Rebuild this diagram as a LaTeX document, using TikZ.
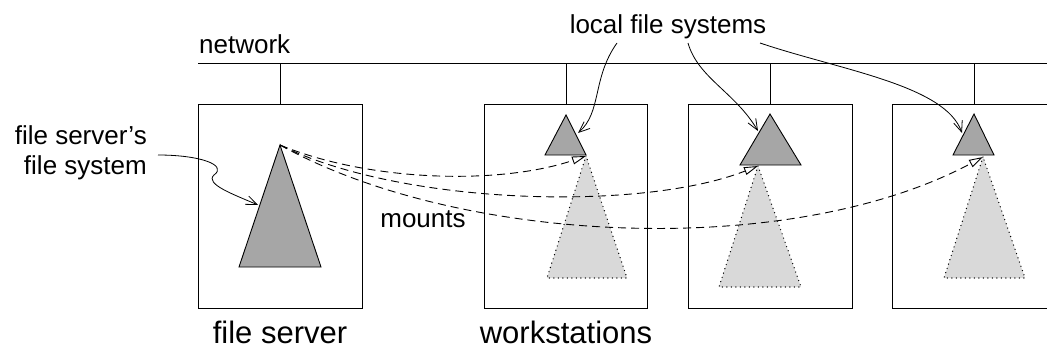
\documentclass[tikz,border=0pt]{standalone}
\usepackage{fontspec}
\setmainfont{Liberation Sans}
\usetikzlibrary{arrows.meta}
\definecolor{darkfs}{RGB}{166,166,166}
\definecolor{lightfs}{RGB}{217,217,217}
\tikzset{
  box/.style={draw=black, line width=1pt, inner sep=0pt, anchor=north west},
  solidtri/.style={draw=black, fill=darkfs, line width=0.9pt, line join=miter},
  dottri/.style={draw=black, line width=1.4pt, line cap=round, dash pattern=on 0pt off 4.5pt},
  mountarrow/.style={line width=0.9pt, dash pattern=on 8pt off 5pt,
    -{Triangle[length=14pt,width=8pt,fill=white,line width=0.9pt]}},
  labelarrow/.style={line width=0.8pt, -{Straight Barb[length=11pt,width=9pt,line width=0.8pt]}},
  lbl/.style={font=\fontsize{26}{30}\selectfont, inner sep=0pt},
  biglbl/.style={font=\fontsize{31}{36}\selectfont, inner sep=0pt},
  wire/.style={line width=1pt},
}
\begin{document}
\begin{tikzpicture}[x=1pt,y=-1pt]
\useasboundingbox (0,0) rectangle (1047,351);

% network
\coordinate (netL) at (198,63);
\coordinate (netR) at (1047,63);
\draw[wire] (netL) -- (netR);
\node[lbl, anchor=base west] (net) at (199,53) {network};

% boxes
\node[box, minimum width=164pt, minimum height=204pt] (fsbox) at (198,104) {};
\node[box, minimum width=163pt, minimum height=204pt] (ws1) at (484,104) {};
\node[box, minimum width=164pt, minimum height=204pt] (ws2) at (688,104) {};
\node[box, minimum width=164pt, minimum height=204pt] (ws3) at (892,104) {};
\foreach \b in {fsbox,ws1,ws2,ws3}{
  \draw[wire] (\b.north) -- (\b.north |- netL);
}

% dotted (mounted) triangles
\coordinate (d1A) at (586,156); \coordinate (d1L) at (547,278); \coordinate (d1R) at (627,278);
\coordinate (d2A) at (758,166); \coordinate (d2L) at (719,287); \coordinate (d2R) at (801,287);
\coordinate (d3A) at (983,157); \coordinate (d3L) at (944,278); \coordinate (d3R) at (1025,278);
\fill[lightfs] (d1A) -- (d1L) -- (d1R) -- cycle;
\fill[lightfs] (d2A) -- (d2L) -- (d2R) -- cycle;
\fill[lightfs] (d3A) -- (d3L) -- (d3R) -- cycle;
\draw[dottri] (d1A) -- (d1L) -- (d1R) -- cycle;
\draw[dottri] (d2A) -- (d2L) -- (d2R) -- cycle;
\draw[dottri] (d3A) -- (d3L) -- (d3R) -- cycle;

% solid triangles
\coordinate (fsA) at (280,145); \coordinate (fsL) at (239,267); \coordinate (fsR) at (321,267);
\coordinate (s1A) at (566,115); \coordinate (s1L) at (545,155); \coordinate (s1R) at (586,155);
\coordinate (s2A) at (770,114); \coordinate (s2L) at (740,165); \coordinate (s2R) at (801,165);
\coordinate (s3A) at (974,114); \coordinate (s3L) at (953,155); \coordinate (s3R) at (994,155);
\filldraw[solidtri] (fsA) -- (fsL) -- (fsR) -- cycle;
\filldraw[solidtri] (s1A) -- (s1L) -- (s1R) -- cycle;
\filldraw[solidtri] (s2A) -- (s2L) -- (s2R) -- cycle;
\filldraw[solidtri] (s3A) -- (s3L) -- (s3R) -- cycle;

% mounts
\draw[mountarrow] (fsA) .. controls (370,182) and (500,185) .. (d1A);
\draw[mountarrow] (fsA) .. controls (400,205) and (640,212) .. (d2A);
\draw[mountarrow] (fsA) .. controls (460,245) and (790,260) .. (d3A);
\node[lbl, anchor=base] (mounts) at (423,227) {mounts};

% labels
\node[lbl, anchor=base] (lfs) at (668,33) {local file systems};
\coordinate (lfs1) at (617,43);
\coordinate (lfs2) at (688,43);
\coordinate (lfs3) at (760,43);
\coordinate (t1) at (578,133);
\coordinate (t2) at (758,131);
\coordinate (t3) at (962,133);
\draw[labelarrow] (lfs1) .. controls (592,78) and (602,112) .. (t1);
\draw[labelarrow] (lfs2) .. controls (698,78) and (735,92) .. (t2);
\draw[labelarrow] (lfs3) .. controls (840,70) and (945,85) .. (t3);

\node[lbl, align=right, anchor=east] (fsfs) at (147,153) {file server's\\file system};
\coordinate (fsfsStart) at (158,155);
\coordinate (fsfsMid) at (214,175);
\coordinate (fsfsTip) at (258,205);
\draw[labelarrow] (fsfsStart) .. controls (200,155) and (228,165) .. (fsfsMid)
  .. controls (204,184) and (235,195) .. (fsfsTip);

\node[biglbl, anchor=base] (fslabel) at (280,343) {file server};
\node[biglbl, anchor=base] (wslabel) at (566,343) {workstations};
\end{tikzpicture}
\end{document}
